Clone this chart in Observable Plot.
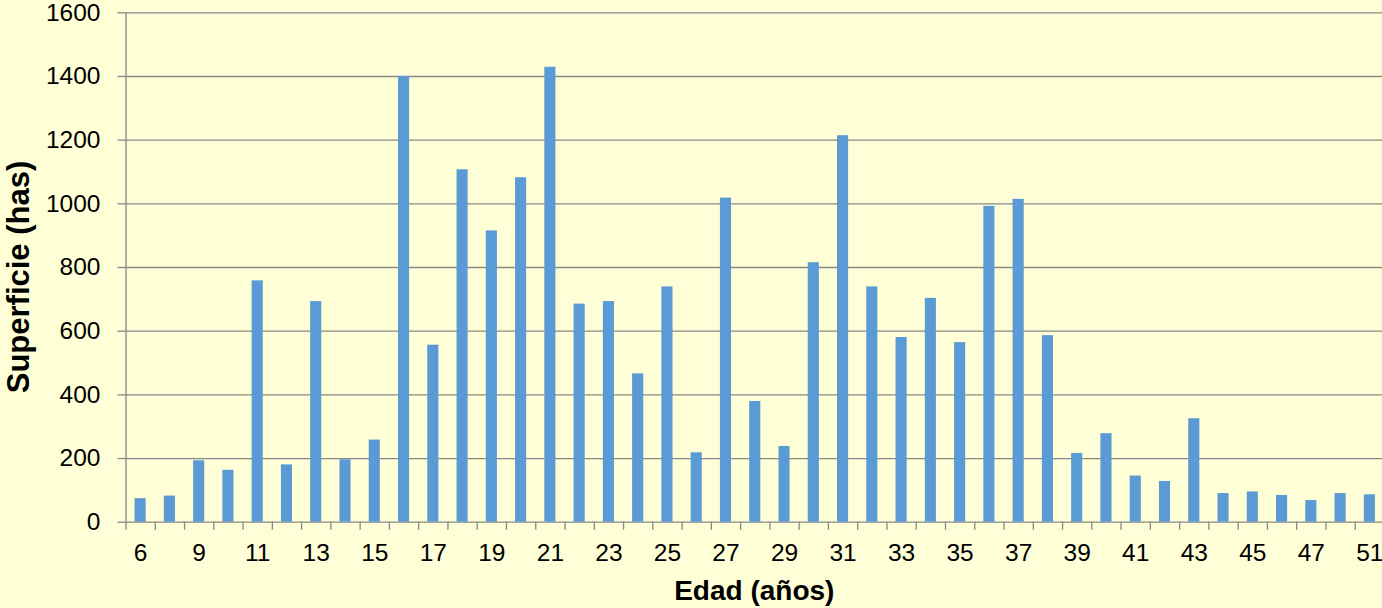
<!DOCTYPE html>
<html>
<head>
<meta charset="utf-8">
<script src="https://cdn.jsdelivr.net/npm/d3@7"></script>
<script src="https://cdn.jsdelivr.net/npm/@observablehq/plot@0.6"></script>
<style>
  html, body { margin: 0; padding: 0; background: #FFFFD7; overflow: hidden; }
  #chart svg { display: block; }
</style>
</head>
<body>
<div id="chart"></div>
<script>
const ages = ["6","8","9","10","11","12","13","14","15","16","17","18","19","20","21","22","23","24","25","26","27","28","29","30","31","32","33","34","35","36","37","38","39","40","41","42","43","44","45","46","47","49","51"];
const superficie = [74,82,193,163,758,180,693,196,258,1400,556,1107,915,1082,1429,685,693,466,739,218,1018,379,238,815,1214,739,580,703,564,992,1014,586,216,278,145,128,325,90,95,84,68,90,86];
const xTickLabels = ["6","9","11","13","15","17","19","21","23","25","27","29","31","33","35","37","39","41","43","45","47","51"];
const yTicks = [0,200,400,600,800,1000,1200,1400,1600];
const xTitle = "Edad (años)";
const yTitle = "Superficie (has)";

const data = ages.map((a, i) => ({edad: a, sup: superficie[i]}));

const W = 1382, H = 608;
const left = 125.5, right = 1384;
const step = (right - left) / ages.length;
const gridColor = "#878787";
const barColor = "#5B9BD5";

const chart = Plot.plot({
  width: W,
  height: H,
  marginTop: 12.3,
  marginBottom: H - 521.7,
  marginLeft: left,
  marginRight: 0,
  style: {background: "#FFFFD7", fontFamily: "'Liberation Sans', Arial, sans-serif", color: "#000", overflow: "hidden"},
  x: {type: "band", domain: ages, range: [left, right], paddingInner: 0.62, paddingOuter: 0.31, round: false, axis: null},
  y: {domain: [0, 1600], axis: null},
  marks: [
    Plot.gridY(yTicks, {stroke: gridColor, strokeOpacity: 1, strokeWidth: 1.3}),
    Plot.barY(data, {x: "edad", y: "sup", fill: barColor}),
    Plot.ruleX([ages[0]], {dx: -step / 2, stroke: gridColor, strokeWidth: 1.3}),
    Plot.axisX(ages, {tickSize: 8, tickFormat: () => "", label: null, dx: -step / 2, stroke: gridColor, strokeWidth: 1.3}),
    Plot.axisX(xTickLabels, {tickSize: 0, tickPadding: 21.6, label: null, fontSize: 24.5, fill: "#000"}),
    Plot.axisY(yTicks, {tickSize: 8, tickPadding: 17.5, label: null, tickFormat: d => String(d), fontSize: 24.5, stroke: gridColor, strokeWidth: 1.3, fill: "#000"}),
    Plot.text([xTitle], {frameAnchor: "bottom", textAnchor: "middle", dy: 78, fontSize: 28, fontWeight: "bold", fill: "#000"}),
    Plot.text([yTitle], {frameAnchor: "left", textAnchor: "middle", rotate: -90, dx: -107.4, dy: 9.5, fontSize: 31, fontWeight: "bold", fill: "#000"})
  ]
});
document.getElementById("chart").appendChild(chart);
</script>
</body>
</html>
